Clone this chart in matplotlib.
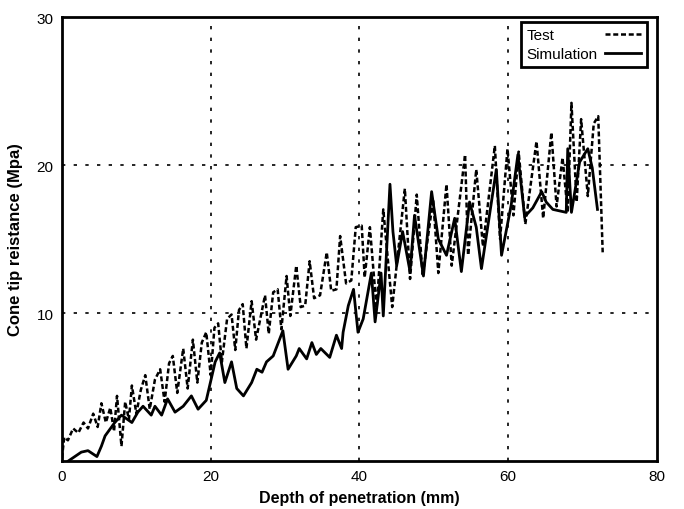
import matplotlib.pyplot as plt

# Test curve (dotted)
test_x = [0.0, 0.3, 0.8, 1.5, 2.2, 2.9, 3.5, 4.2, 4.8, 5.3, 5.9, 6.5, 7.0, 7.4, 8.0, 8.5,
          9.0, 9.4, 10.0, 10.6, 11.2, 11.8, 12.5, 13.2, 13.8, 14.4, 14.9, 15.5, 16.3, 16.9,
          17.6, 18.2, 18.8, 19.4, 20.0, 20.5, 21.0, 21.5, 22.2, 22.8, 23.3, 23.8, 24.3, 24.8,
          25.5, 26.1, 27.3, 27.8, 28.4, 29.0, 29.5, 30.2, 30.7, 31.5, 32.1, 32.7, 33.3, 33.9,
          34.7, 35.6, 36.2, 36.9, 37.4, 38.2, 38.9, 39.5, 40.3, 40.7, 41.4, 42.3, 43.2, 44.4,
          46.1, 46.8, 47.7, 48.5, 49.9, 50.6, 51.7, 52.4, 54.2, 54.6, 55.7, 56.6, 58.2, 58.9,
          59.9, 60.7, 61.4, 62.3, 63.8, 64.7, 65.8, 66.5, 67.3, 68.0, 68.5, 69.2, 69.8, 70.7,
          71.5, 72.1, 72.7]
test_y = [0.2, 1.6, 1.4, 2.2, 1.9, 2.6, 2.2, 3.2, 2.3, 3.9, 2.6, 3.6, 2.0, 4.4, 1.0, 4.0,
          2.8, 5.1, 3.2, 4.8, 5.8, 3.5, 5.5, 6.2, 4.0, 6.6, 7.1, 4.6, 7.6, 4.9,
          8.2, 5.3, 8.0, 8.7, 5.8, 9.0, 9.3, 6.7, 9.6, 9.9, 7.5, 10.2, 10.6, 7.6,
          10.8, 8.2, 11.2, 8.6, 11.4, 11.6, 8.9, 12.5, 9.8, 13.2, 10.4, 10.5, 13.5, 11.0,
          11.2, 14.1, 11.5, 11.6, 15.2, 12.0, 12.2, 15.8, 15.9, 12.4, 15.8, 10.3, 17.0, 10.4,
          18.4, 12.3, 18.0, 12.5, 17.7, 12.7, 18.7, 13.2, 20.7, 13.9, 19.7, 14.5, 21.3, 15.0,
          21.1, 16.6, 20.9, 16.0, 21.6, 16.4, 22.2, 17.2, 20.5, 16.8, 24.2, 17.5, 23.1, 17.9,
          22.8, 23.3, 14.1]

# Simulation curve (solid)
sim_x = [0.85, 2.6, 3.5, 4.7, 5.3, 5.8, 7.1, 8.0, 9.4, 10.2, 10.9, 12.0, 12.5, 13.4, 14.2,
         15.2, 16.3, 17.4, 18.3, 19.4, 20.6, 21.2, 21.9, 22.8, 23.5, 24.4, 25.5, 26.2, 26.9,
         27.5, 28.4, 29.7, 30.4, 31.5, 31.9, 32.9, 33.6, 34.2, 34.8, 36.0, 36.9, 37.6, 37.8,
         38.5, 39.2, 39.8, 40.5, 41.6, 42.1, 42.9, 43.2, 44.1, 44.5, 45.0, 45.8, 46.8, 47.4,
         48.6, 49.7, 50.6, 51.7, 52.8, 53.7, 54.8, 55.7, 56.4, 58.4, 59.1, 60.4, 61.3, 62.2,
         63.3, 64.5, 65.1, 66.0, 67.8, 68.0, 68.5, 69.6, 70.7, 71.3, 72.0]
sim_y = [0.0, 0.6, 0.7, 0.3, 1.0, 1.7, 2.6, 3.1, 2.6, 3.3, 3.7, 3.1, 3.7, 3.1, 4.2,
         3.3, 3.7, 4.4, 3.5, 4.1, 6.7, 7.3, 5.3, 6.7, 4.9, 4.4, 5.3, 6.2, 6.0,
         6.7, 7.1, 8.8, 6.2, 7.1, 7.6, 6.9, 8.0, 7.2, 7.6, 7.0, 8.5, 7.6, 8.7,
         10.5, 11.6, 8.7, 9.6, 12.7, 9.4, 12.7, 9.8, 18.7, 15.5, 13.2, 15.5, 12.8, 16.6,
         12.5, 18.2, 15.0, 13.9, 16.4, 12.8, 17.5, 15.8, 13.0, 19.7, 13.9, 17.3, 20.7, 16.5,
         17.1, 18.2, 17.5, 17.0, 16.8, 21.1, 16.8, 20.2, 21.1, 19.8, 17.0]

plt.rcParams['font.family'] = ['Liberation Sans', 'DejaVu Sans']

fig = plt.figure(figsize=(6.84, 5.10), dpi=100)
ax = fig.add_axes([0.0906, 0.0941, 0.8699, 0.8706])

ax.plot(test_x, test_y, color='black', lw=1.8, linestyle=(0, (2.0, 1.1)), label='Test')
ax.plot(sim_x, sim_y, color='black', lw=2.0, label='Simulation')

ax.set_xlim(0, 80)
ax.set_ylim(0, 30)
ax.set_xticks([0, 20, 40, 60, 80])
ax.set_yticks([10, 20, 30])
ax.tick_params(length=0, labelsize=11, pad=6)

for v in [20, 40, 60]:
    ax.axvline(v, color='black', lw=1.2, linestyle=(0, (2, 5)), zorder=0)
for v in [10, 20]:
    ax.axhline(v, color='black', lw=1.2, linestyle=(0, (2, 5)), zorder=0)

for s in ax.spines.values():
    s.set_linewidth(2)

ax.set_xlabel('Depth of penetration (mm)', fontsize=11.5, fontweight='bold', labelpad=5)
ax.set_ylabel('Cone tip reistance (Mpa)', fontsize=12, fontweight='bold', labelpad=10)

leg = ax.legend(loc='upper right', bbox_to_anchor=(0.983, 0.989), borderaxespad=0,
                markerfirst=False, fancybox=False, framealpha=1, edgecolor='black',
                fontsize=11, handlelength=2.35, borderpad=0.4, labelspacing=0.35,
                handletextpad=0.45)
leg.get_frame().set_linewidth(2)

# left-align the legend labels: widen the gap after the shorter label
fig.canvas.draw()
renderer = fig.canvas.get_renderer()
texts = leg.get_texts()
widths = [t.get_window_extent(renderer).width for t in texts]
column = leg._legend_handle_box.get_children()[0]
for item, w in zip(column.get_children(), widths):
    item.sep = item.sep + (max(widths) - w) * 72.0 / fig.dpi

fig.savefig('out.png', dpi=100)
